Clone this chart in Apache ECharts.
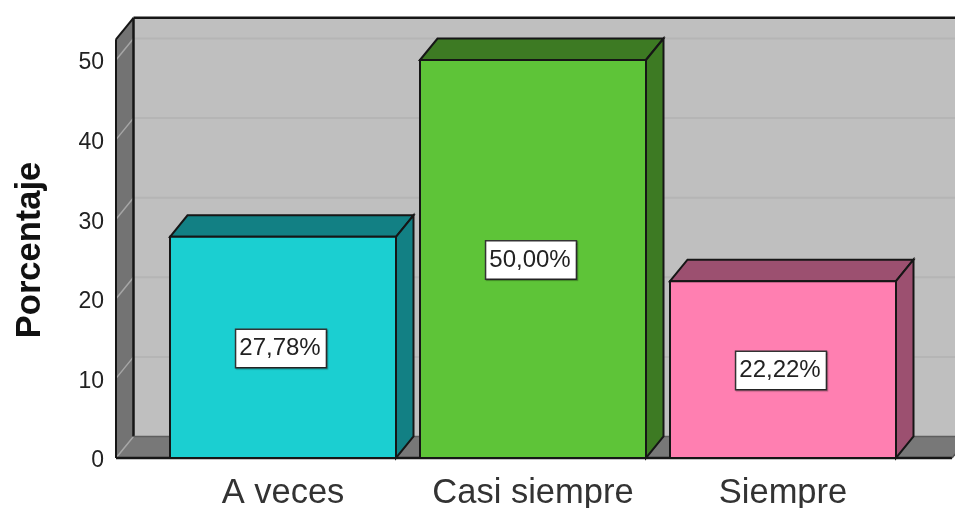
<!DOCTYPE html>
<html><head><meta charset="utf-8">
<style>html,body{margin:0;padding:0;background:#fff}#c{width:955px;height:508px}</style>
<script src="https://cdn.jsdelivr.net/npm/echarts@6/dist/echarts.min.js"></script>
</head><body><div id="c"></div>
<script>
const categories = ['A veces', 'Casi siempre', 'Siempre'];
const percentages = [27.78, 50.00, 22.22];
const yTicks = [0, 10, 20, 30, 40, 50];
const faceColors = ['#1bcfd1', '#5ec438', '#ff7fb1'];
const sideColors = ['#128084', '#3d7a23', '#9c5070'];
const yTitle = 'Porcentaje';

const DX = 17.5, DY = -21.5, LINE = '#161616';
const chart = echarts.init(document.getElementById('c'), null, {renderer: 'canvas'});

function poly(points, fill, stroke, lw) {
  return {type: 'polygon', shape: {points}, style: {fill, stroke: stroke || 'none', lineWidth: lw || 0, lineJoin: 'miter'}};
}
function seg(a, b, stroke, lw) {
  return {type: 'line', shape: {x1: a[0], y1: a[1], x2: b[0], y2: b[1]}, style: {stroke, lineWidth: lw}};
}
function renderWalls(params, api) {
  const cs = params.coordSys;
  const L = cs.x - 42, R = cs.x + cs.width + 44;
  const y0 = api.coord([0, 0])[1];
  const yTop = api.coord([0, 52.6])[1];
  const kids = [
    poly([[L + DX, yTop + DY], [R + 40, yTop + DY], [R + 40, y0 + DY], [L + DX, y0 + DY]], '#bfbfbf'),
    poly([[L, yTop], [L + DX, yTop + DY], [L + DX, y0 + DY], [L, y0]], '#737373'),
    poly([[L, y0], [L + DX, y0 + DY], [R + DX, y0 + DY], [R, y0]], '#787878')
  ];
  yTicks.forEach(t => {
    const y = api.coord([0, t])[1];
    if (t > 0) kids.push(seg([L + DX, y + DY], [R + 40, y + DY], '#b5b5b5', 2));
    kids.push(seg([L, y], [L + DX, y + DY], '#a6a6a6', 1.5));
  });
  kids.push(seg([L, yTop], [L, y0], LINE, 2));
  kids.push(seg([L, yTop], [L + DX, yTop + DY], LINE, 2));
  kids.push(seg([L + DX, yTop + DY], [R + 40, yTop + DY], LINE, 2.5));
  kids.push(seg([L + DX, yTop + DY], [L + DX, y0 + DY], LINE, 2.5));
  kids.push(seg([L, y0], [R, y0], LINE, 2.5));
  kids.push(seg([R, y0], [R + DX, y0 + DY], '#555', 1.5));
  kids.push(seg([L + DX, y0 + DY], [R + 40, y0 + DY], '#5e5e5e', 1.5));
  return {type: 'group', children: kids};
}
function renderBar(params, api) {
  const i = api.value(0), v = api.value(1);
  const c = api.coord([i, v]), b = api.coord([i, 0]);
  const w = api.size([1, 0])[0] * 0.904;
  const l = c[0] - w / 2, r = c[0] + w / 2, t = c[1], y0 = b[1];
  const mid = api.coord([i, v / 2])[1];
  return {type: 'group', children: [
    poly([[l, t], [l + DX, t + DY], [r + DX, t + DY], [r, t]], sideColors[i], LINE, 2),
    poly([[r, t], [r + DX, t + DY], [r + DX, y0 + DY], [r, y0]], sideColors[i], LINE, 2),
    {type: 'rect', shape: {x: l, y: t, width: w, height: y0 - t}, style: {fill: faceColors[i], stroke: LINE, lineWidth: 2}},
    {type: 'text', x: c[0] - 2, y: mid + 1, style: {
      text: v.toFixed(2).replace('.', ',') + '%', align: 'center', verticalAlign: 'middle',
      font: '24px "Liberation Sans", Arial, sans-serif', fill: '#222',
      backgroundColor: '#fff', borderColor: '#333', borderWidth: 1.5,
      padding: [7, 5, 6, 3], shadowColor: 'rgba(0,0,0,0.3)', shadowBlur: 1, shadowOffsetX: 1, shadowOffsetY: 1
    }}
  ]};
}
chart.setOption({
  animation: false,
  backgroundColor: '#fff',
  grid: {left: 158, right: 47, top: 60, bottom: 50, containLabel: false, outerBoundsMode: 'none'},
  xAxis: {
    type: 'category', data: categories,
    axisLine: {show: false}, axisTick: {show: false}, splitLine: {show: false},
    axisLabel: {fontFamily: 'Liberation Sans', fontSize: 34.5, color: '#333', margin: 18, interval: 0}
  },
  yAxis: {
    type: 'value', min: 0, max: 50, interval: 10,
    name: yTitle, nameLocation: 'middle', nameGap: 110,
    nameTextStyle: {fontFamily: 'Liberation Sans', fontWeight: 'bold', fontSize: 34.5, color: '#111', padding: [0, 0, 0, 18]},
    axisLine: {show: false}, axisTick: {show: false}, splitLine: {show: false},
    axisLabel: {
      margin: 54, formatter: '{t|{value}}',
      rich: {t: {fontFamily: 'Liberation Sans', fontSize: 23, color: '#222', padding: [6, 0, 0, 0]}}
    }
  },
  series: [
    {type: 'custom', name: 'walls', coordinateSystem: 'cartesian2d', clip: false, silent: true,
     renderItem: renderWalls, data: [[0, 0]], encode: {x: 0, y: 1}, z: 1},
    {type: 'custom', name: yTitle, coordinateSystem: 'cartesian2d', clip: false,
     renderItem: renderBar, data: percentages.map((v, i) => [i, v]), encode: {x: 0, y: 1}, z: 2}
  ]
});
</script></body></html>
